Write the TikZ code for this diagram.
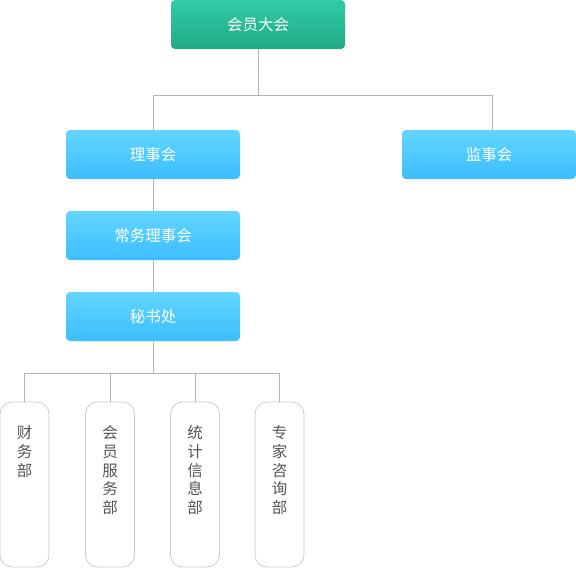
\documentclass[tikz,border=0pt]{standalone}
\usepackage{fontspec}
\newfontfamily\cjk{Noto Sans CJK SC}
\definecolor{gtop}{HTML}{30CBA8}
\definecolor{gbot}{HTML}{21A984}
\definecolor{btop}{HTML}{62D6FF}
\definecolor{bbot}{HTML}{3DBDFD}
\definecolor{lin}{HTML}{B4B4B4}
\definecolor{txt}{HTML}{555555}
\definecolor{bord}{HTML}{CCCCCC}
\begin{document}
\begin{tikzpicture}[x=1pt,y=-1pt,
  boxbase/.style={rounded corners=4pt, draw=none, minimum width=174pt, minimum height=49pt,
    text=white, font=\cjk\fontsize{15.5}{18}\selectfont, inner sep=0pt},
  greenbox/.style={boxbase, top color=gtop, bottom color=gbot},
  bluebox/.style={boxbase, top color=btop, bottom color=bbot},
  deptbox/.style={rounded corners=12pt, draw=bord, line width=0.8pt, fill=white,
    minimum width=49pt, minimum height=165pt, inner sep=0pt},
  depttext/.style={anchor=north, inner sep=0pt, align=center, text=txt,
    font=\cjk\fontsize{15.5}{18.7}\selectfont},
  conn/.style={draw=lin, line width=0.8pt}]
\useasboundingbox (0,0) rectangle (576,568);
\node[greenbox] (top) at (258,24.5) {会员大会};
\node[bluebox] (lishi) at (153,154.5) {理事会};
\node[bluebox] (jianshi) at (489,154.5) {监事会};
\node[bluebox] (changwu) at (153,235.5) {常务理事会};
\node[bluebox] (mishu) at (153,316.5) {秘书处};
\node[deptbox] (d1) at (24.5,484.5) {};
\node[deptbox] (d2) at (110,484.5) {};
\node[deptbox] (d3) at (195,484.5) {};
\node[deptbox] (d4) at (279.5,484.5) {};
\node[depttext] (t1) at ([yshift=-24pt]d1.north) {财\\务\\部};
\node[depttext] (t2) at ([yshift=-24pt]d2.north) {会\\员\\服\\务\\部};
\node[depttext] (t3) at ([yshift=-24pt]d3.north) {统\\计\\信\\息\\部};
\node[depttext] (t4) at ([yshift=-24pt]d4.north) {专\\家\\咨\\询\\部};
\coordinate (j1) at (153,95);
\coordinate (j2) at (492,95);
\coordinate (k1) at (24.5,373);
\coordinate (k2) at (110,373);
\coordinate (k3) at (195,373);
\coordinate (k4) at (279.5,373);
\draw[conn] (top.south) |- (j1) -- (lishi.north);
\draw[conn] (top.south) |- (j2) -- (j2 |- jianshi.north);
\draw[conn] (lishi.south) -- (changwu.north);
\draw[conn] (changwu.south) -- (mishu.north);
\draw[conn] (mishu.south) |- (k1) -- (d1.north);
\draw[conn] (mishu.south) |- (k2) -- (d2.north);
\draw[conn] (mishu.south) |- (k3) -- (d3.north);
\draw[conn] (mishu.south) |- (k4) -- (d4.north);
\end{tikzpicture}
\end{document}
